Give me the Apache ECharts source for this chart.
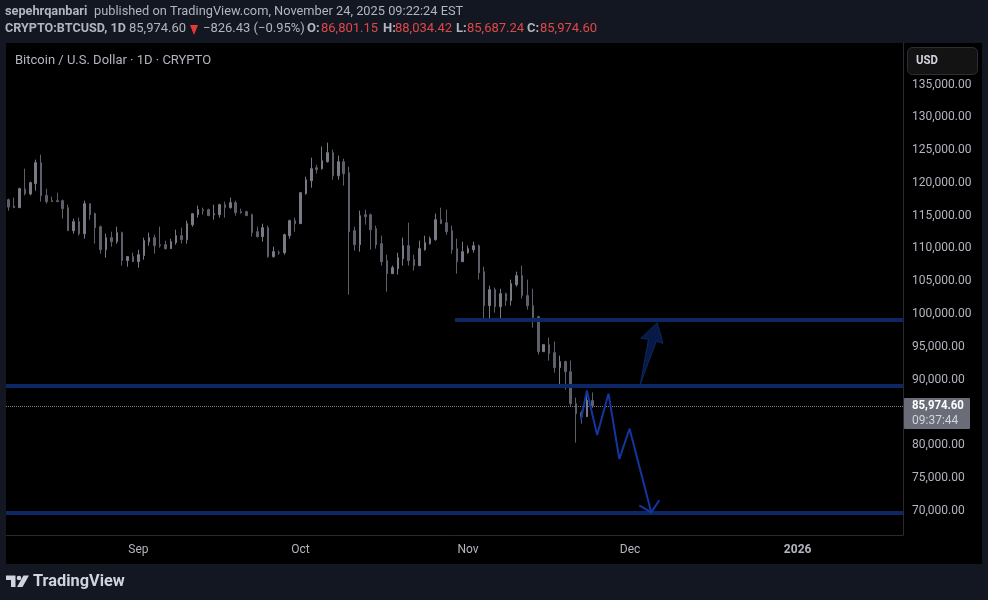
<!DOCTYPE html>
<html>
<head>
<meta charset="utf-8">
<title>BTCUSD</title>
<script src="https://cdn.jsdelivr.net/npm/echarts@6/dist/echarts.min.js"></script>
<style>
html,body{margin:0;padding:0;background:#131722;}
#chart{width:988px;height:600px;}
</style>
</head>
<body>
<div id="chart"></div>
<script>
// candles, Aug 8 2025 .. Nov 24 2025
var opens = [117450,116490,116230,119080,118320,119890,123100,118100,117300,117300,
  117300,116230,112720,114100,112260,116840,115320,113330,109820,111650,
  111040,112420,108150,108760,107990,108910,111040,111650,110590,110590,
  109980,110890,111960,111350,113640,115160,115930,115930,115160,115160,
  116690,116230,116990,115620,115620,115160,112570,111810,113180,108760,
  109370,109370,111960,114250,113790,118370,120350,122330,122180,123250,
  124620,121110,123250,121570,112720,110590,115160,115160,113030,110740,
  108150,106160,106920,108450,110430,108300,107380,109820,110740,111350,
  114400,113940,112720,109980,107990,109370,109820,110430,106470,101280,
  103720,101130,103110,102040,104480,105860,102810,101280,99600,94260,
  95330,94110,91820,92740,91210,86330,84950,84340,86801.15];
var closes = [116330,116230,119130,118320,120050,123100,118060,117150,117150,117150,
  116080,112720,114100,112260,116840,115160,113180,109820,111650,111040,
  112420,108150,108760,107990,109060,111200,111650,110430,110430,109980,
  111040,111960,111350,113790,115320,115930,115770,115010,115320,116690,
  116230,116990,115470,115470,115010,112420,111810,113180,108760,109520,
  109320,112110,114250,113790,118520,120500,122180,122030,123400,124620,
  121110,123250,121420,112570,110590,115010,114860,112870,110590,107990,
  106160,107080,108600,110430,108150,107380,109980,110890,111500,114400,
  113790,112570,109820,107990,109520,109980,110430,106310,101280,103720,
  101130,103110,102040,104640,105860,102810,101280,99450,94260,95330,
  93960,91820,92740,91210,86330,84800,84340,86801.15,85974.60];
var lows = [115770,116230,116230,118110,118110,118830,117150,116840,117150,117150,
  114550,112720,112260,111960,111500,114400,110740,109210,108600,110280,
  110740,107380,107230,107990,107080,108300,110430,109210,110130,109820,
  109980,110590,110740,110740,113330,114700,115160,115010,114400,114700,
  114700,116080,115010,115320,115010,111810,111650,111040,108600,108600,
  109060,109060,111500,112570,113790,118210,119280,121420,122030,123100,
  120500,120500,119590,102960,109670,109520,113640,109820,109980,107380,
  103410,106160,106010,107380,107380,106620,107380,109670,110590,111200,
  113790,112110,109210,106160,107990,109210,109370,105250,98840,98840,
  100210,99140,101280,101280,104180,102350,100670,97920,93800,94260,
  92890,91060,89070,88460,85870,80380,83280,84340,85687.24];
var highs = [117600,117760,119280,122180,120200,123560,124320,119130,117910,118520,
  117450,116690,114550,114710,117300,116840,115470,113490,112260,112570,
  113330,112570,108760,109370,109820,111650,112420,112110,113330,111200,
  111500,112870,113180,114250,115320,116540,116230,116080,116690,116840,
  117150,117760,117300,116080,115770,115320,113330,113790,113490,110280,
  109670,112260,114400,114700,118520,120960,123860,122790,125540,126150,
  125080,124170,123710,122490,113330,115770,115930,115320,113490,111960,
  109060,107380,109370,111660,113940,109060,111200,111960,111810,115320,
  116230,115930,113490,111500,111040,110430,111040,110590,107230,104330,
  104030,103870,103260,105250,106470,107380,105250,103870,99750,95330,
  96400,95790,93650,92890,92890,87240,85260,88310,88034.42];

// horizontal levels the author drew, and where the first one starts
var levelPrices = [99090, 89020, 69640];
var levelStarts = [82.6, -0.5, -0.5];

// hand drawn arrows: day number from Aug 8, price
var zigzagDays = [105.9,107,108.9,111,113,114.9,118.9];
var zigzagPrices = [83830,88310,81540,87850,77880,82510,69740];
var headDays = [116.7,118.9,120.4];
var headPrices = [70810,69740,71580];
var upArrowDays = [116.9,118.4,117,120,121.1,119.85];
var upArrowPrices = [89330,96140,96290,98680,95530,95840];

var yTicks = [70000,75000,80000,85000,90000,95000,100000,105000,110000,115000,120000,125000,130000,135000];
var tickDates = ["2025-09-01","2025-10-01","2025-11-01","2025-12-01","2026-01-01"];
var tickNames = ["Sep","Oct","Nov","Dec","2026"];
var lastPrice = 85974.60;

var UP = "#787b86", DOWN = "#5d606b";
var FONT = "Roboto";

function pad(n){ return n < 10 ? "0" + n : "" + n; }
var categories = [];
for(var d = 0; d < 166; d++){
	var t = new Date(Date.UTC(2025, 7, 8 + d));
	categories.push(t.getUTCFullYear() + "-" + pad(t.getUTCMonth() + 1) + "-" + pad(t.getUTCDate()));
}
var candles = [];
for(var i = 0; i < opens.length; i++){
	candles.push([opens[i], closes[i], lows[i], highs[i]]);
}
function zip(xs, ys){
	var out = [];
	for(var i = 0; i < xs.length; i++){ out.push([xs[i], ys[i]]); }
	return out;
}
function price(v){
	return v.toLocaleString("en-US", {minimumFractionDigits:2, maximumFractionDigits:2});
}
function txt(x, y, s, color, weight, size, sx){
	return {type:"text", x:x, y:y, scaleX:sx || 1, z:11, silent:true,
		style:{text:s, fill:color, font:(weight||"normal") + " " + (size||13) + "px " + FONT}};
}

var series = [{
	type:"candlestick",
	data:candles,
	barWidth:2,
	itemStyle:{color:UP, color0:DOWN, borderColor:UP, borderColor0:DOWN, borderWidth:1},
	markLine:{
		silent:true, symbol:"none", label:{show:false},
		lineStyle:{color:"#787b86", type:"dotted", width:1},
		data:[{yAxis:lastPrice}],
		animation:false
	}
}];
levelPrices.forEach(function(p, i){
	series.push({type:"line", xAxisIndex:1, symbol:"none", silent:true, z:4,
		lineStyle:{color:"#0c2764", width:4, cap:"butt"},
		data:[[levelStarts[i], p],[165.5, p]]});
});
series.push({type:"line", xAxisIndex:1, symbol:"none", silent:true, z:5,
	lineStyle:{color:"#1136a0", width:2}, data:zip(zigzagDays, zigzagPrices)});
series.push({type:"line", xAxisIndex:1, symbol:"none", silent:true, z:5,
	lineStyle:{color:"#1136a0", width:2}, data:zip(headDays, headPrices)});
series.push({type:"custom", xAxisIndex:1, silent:true, z:5,
	data:[[upArrowDays[0], upArrowPrices[0]]],
	renderItem:function(params, api){
		var pts = zip(upArrowDays, upArrowPrices).map(function(p){ return api.coord(p); });
		return {type:"polygon", shape:{points:pts}, style:{fill:"#071a45", stroke:"#0c2764", lineWidth:1}};
	}});

var graphic = [
	{type:"rect", z:-1, shape:{x:6, y:43, width:976, height:521}, style:{fill:"#000"}, silent:true},
	{type:"rect", z:10, shape:{x:907.5, y:47.5, width:70, height:27, r:5}, style:{fill:"#131313", stroke:"#2a2e39"}, silent:true},
	txt(916, 55, "USD", "#d1d4dc", "bold", 12, 0.95),
	txt(5, 5, "sepehrqanbari", "#b2b5be", "bold", 13, 0.98),
	txt(94, 5, "published on TradingView.com, November 24, 2025 09:22:24 EST", "#b2b5be", "normal", 13, 0.985),
	txt(5, 22, "CRYPTO:BTCUSD, 1D", "#b2b5be", "bold", 13, 0.97),
	txt(129, 22, "85,974.60", "#b2b5be"),
	{type:"polygon", silent:true, shape:{points:[[190,25],[198,25],[194,35]]}, style:{fill:"#e53935"}},
	txt(203, 22, "\u2212826.43 (\u22120.95%)", "#b2b5be"),
	txt(307, 22, "O:", "#b2b5be", "bold"), txt(321, 22, "86,801.15", "#e04848"),
	txt(383, 22, "H:", "#b2b5be", "bold"), txt(395, 22, "88,034.42", "#e04848"),
	txt(456, 22, "L:", "#b2b5be", "bold"), txt(467, 22, "85,687.24", "#e04848"),
	txt(527, 22, "C:", "#b2b5be", "bold"), txt(540, 22, "85,974.60", "#e04848"),
	txt(15, 54, "Bitcoin / U.S. Dollar \u00b7 1D \u00b7 CRYPTO", "#b2b5be"),
	{type:"rect", z:10, shape:{x:904, y:398, width:66, height:31, r:1}, style:{fill:"#6a6d78"}, silent:true},
	txt(912, 400, price(lastPrice), "#fff", "bold", 12, 0.95),
	txt(912, 415, "09:37:44", "#d1d4dc", "normal", 12, 1),
	// TradingView logo
	{type:"polygon", silent:true, shape:{points:[[6,575.5],[15.5,575.5],[15.5,587],[11,587],[11,580],[6,580]]}, style:{fill:"#d1d4dc"}},
	{type:"circle", silent:true, shape:{cx:19, cy:578, r:2.3}, style:{fill:"#d1d4dc"}},
	{type:"polygon", silent:true, shape:{points:[[23.5,575.5],[29,575.5],[22.5,587],[17,587]]}, style:{fill:"#d1d4dc"}},
	txt(33, 573, "TradingView", "#d1d4dc", "bold", 17, 0.96)
];

var myChart = echarts.init(document.getElementById("chart"), null, {renderer:"canvas"});
myChart.setOption({
	animation:false,
	backgroundColor:"#131722",
	textStyle:{fontFamily:FONT},
	grid:{left:6, top:43, width:897, height:492, containLabel:false},
	xAxis:[{
		type:"category", data:categories, boundaryGap:true,
		axisLine:{show:true, lineStyle:{color:"#2a2a2e", width:1}},
		axisTick:{show:false}, splitLine:{show:false},
		axisLabel:{
			color:"#b2b5be", fontSize:12, margin:9, fontFamily:FONT,
			interval:function(idx, val){ return tickDates.indexOf(val) >= 0; },
			formatter:function(val){
				var n = tickNames[tickDates.indexOf(val)];
				return n === "2026" ? "{y|2026}" : n;
			},
			rich:{y:{fontWeight:"bold", color:"#b2b5be", fontSize:12}}
		}
	},{
		type:"value", min:-0.5, max:165.5, show:false
	}],
	yAxis:{
		type:"value", position:"right", min:66285, max:141355, scale:true,
		axisLine:{show:true, onZero:false, lineStyle:{color:"#2a2a2e", width:1}},
		axisTick:{show:false}, splitLine:{show:false},
		axisLabel:{
			customValues:yTicks, color:"#b2b5be", fontSize:12, margin:9, fontFamily:FONT,
			formatter:function(v){ return price(v); }
		}
	},
	graphic:graphic,
	series:series
});
</script>
</body>
</html>
